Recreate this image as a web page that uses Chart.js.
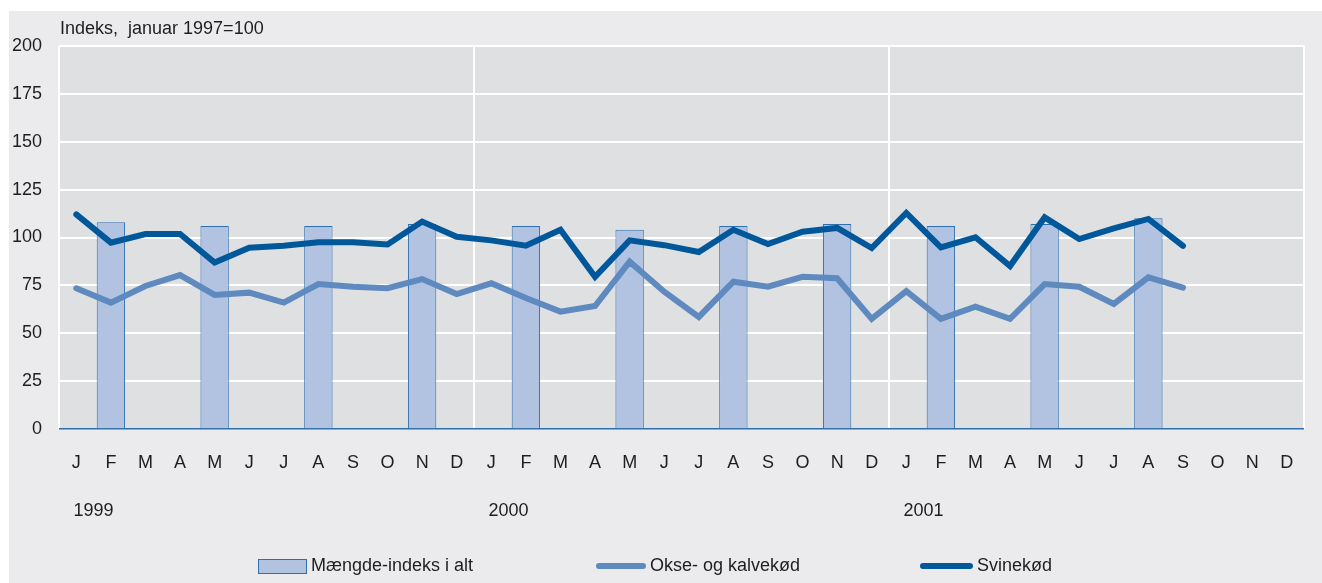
<!DOCTYPE html>
<html>
<head>
<meta charset="utf-8">
<script src="https://cdn.jsdelivr.net/npm/chart.js@4.4.1/dist/chart.umd.min.js"></script>
<style>
  html, body { margin: 0; padding: 0; background: #ffffff; }
  canvas { display: block; }
</style>
</head>
<body>
<canvas id="c" width="1322" height="583"></canvas>
<script>
// ---- Data ----
const monthLabels = ['J','F','M','A','M','J','J','A','S','O','N','D',
                     'J','F','M','A','M','J','J','A','S','O','N','D',
                     'J','F','M','A','M','J','J','A','S','O','N','D'];
const yearLabels = ['1999', '2000', '2001'];
const yTicks = [0, 25, 50, 75, 100, 125, 150, 175, 200];
const unitLabel = 'Indeks,  januar 1997=100';

const seriesNames = ['Mængde-indeks i alt', 'Okse- og kalvekød', 'Svinekød'];

const maengdeIndeks = [null,108,null,null,106,null,null,106,null,null,107,null,
                       null,106,null,null,104,null,null,106,null,null,107,null,
                       null,106,null,null,107,null,null,110,null,null,null,null];

const okseKalv = [73.5,66,74.7,80.4,70,71.2,66,75.7,74.3,73.5,78.3,70.5,
                  76.1,68.4,61.3,64.2,87.4,71.7,58.5,76.9,74.3,79.5,78.7,57.5,
                  72,57.5,63.9,57.5,75.7,74.3,65.3,79.2,73.8,null,null,null];

const svinekod = [112.1,97.3,101.8,101.8,86.9,94.7,95.7,97.5,97.5,96.4,108.3,100.4,
                  98.5,95.7,104,79.5,98.5,96,92.4,104,96.6,103,105,94.5,
                  112.8,94.9,100.1,85.1,110.5,99.2,104.8,109.7,95.6,null,null,null];

// ---- Styles ----
const FONT = '"Liberation Sans", Arial, sans-serif';
const TEXT = '#1e1e1e';
const BAR_FILL = '#b1c3e1';
const BAR_BORDER = '#2f6fae';
const OKSE_COLOR = '#5e8abf';
const SVINE_COLOR = '#00589b';

const bgPlugin = {
  id: 'bg',
  beforeDraw(chart) {
    const ctx = chart.ctx;
    const a = chart.chartArea;
    ctx.save();
    ctx.fillStyle = '#ffffff';
    ctx.fillRect(0, 0, chart.width, chart.height);
    ctx.fillStyle = '#ebebed';
    ctx.fillRect(9, 11, chart.width - 9, chart.height - 11);
    ctx.fillStyle = '#dfe0e2';
    ctx.fillRect(a.left, a.top, a.right - a.left, a.bottom - a.top);
    ctx.restore();
  },
  afterDraw(chart) {
    const ctx = chart.ctx;
    const x = chart.scales.x;
    ctx.save();
    ctx.fillStyle = TEXT;
    ctx.font = '18px ' + FONT;
    ctx.textBaseline = 'middle';
    // unit label
    ctx.textAlign = 'left';
    ctx.fillText(unitLabel, 60, 29);
    // year labels
    ctx.textAlign = 'center';
    yearLabels.forEach((y, i) => {
      const cx = (x.getPixelForValue(i * 12) + x.getPixelForValue(i * 12 + 1)) / 2;
      ctx.fillText(y, cx, 511);
    });
    // legend
    const ly = 566;
    ctx.textAlign = 'left';
    // bar item
    ctx.fillStyle = BAR_FILL;
    ctx.fillRect(258, ly - 7, 48, 14);
    ctx.strokeStyle = BAR_BORDER;
    ctx.lineWidth = 1;
    ctx.strokeRect(258.5, ly - 6.5, 48, 14);
    ctx.fillStyle = TEXT;
    ctx.fillText(seriesNames[0], 311, ly);
    // okse item
    ctx.lineCap = 'round';
    ctx.lineWidth = 6;
    ctx.strokeStyle = OKSE_COLOR;
    ctx.beginPath(); ctx.moveTo(599, ly); ctx.lineTo(643, ly); ctx.stroke();
    ctx.fillText(seriesNames[1], 650, ly);
    // svine item
    ctx.strokeStyle = SVINE_COLOR;
    ctx.beginPath(); ctx.moveTo(923, ly); ctx.lineTo(970, ly); ctx.stroke();
    ctx.fillText(seriesNames[2], 977, ly);
    ctx.restore();
  }
};

new Chart(document.getElementById('c'), {
  type: 'bar',
  data: {
    labels: monthLabels,
    datasets: [
      {
        type: 'line', label: seriesNames[2], data: svinekod,
        borderColor: SVINE_COLOR, borderWidth: 6, pointRadius: 0,
        borderCapStyle: 'round', borderJoinStyle: 'miter', tension: 0, order: 0
      },
      {
        type: 'line', label: seriesNames[1], data: okseKalv,
        borderColor: OKSE_COLOR, borderWidth: 6, pointRadius: 0,
        borderCapStyle: 'round', borderJoinStyle: 'miter', tension: 0, order: 1
      },
      {
        type: 'bar', label: seriesNames[0], data: maengdeIndeks,
        backgroundColor: BAR_FILL, borderColor: BAR_BORDER, borderWidth: 1,
        barPercentage: 0.82, categoryPercentage: 1.0, order: 2
      }
    ]
  },
  options: {
    responsive: false,
    animation: false,
    devicePixelRatio: 1,
    layout: { padding: { top: 46, right: 18, left: 0, bottom: 0 } },
    plugins: { legend: { display: false }, tooltip: { enabled: false }, title: { display: false } },
    scales: {
      x: {
        offset: true,
        grid: {
          offset: true,
          drawTicks: false,
          lineWidth: 2,
          color: (c) => (c.index === undefined || c.index % 12 === 0) ? '#ffffff' : 'rgba(0,0,0,0)'
        },
        border: { display: false },
        ticks: {
          color: TEXT, font: { family: FONT, size: 18 }, padding: 23,
          maxRotation: 0, autoSkip: false
        },
        afterFit: (s) => { s.height = 154; }
      },
      y: {
        min: 0, max: 200,
        afterBuildTicks: (s) => { s.ticks = yTicks.map(v => ({ value: v })); },
        grid: {
          drawTicks: false,
          lineWidth: (c) => (c.tick && c.tick.value === 0) ? 1.5 : 2,
          color: (c) => (c.tick && c.tick.value === 0) ? BAR_BORDER : '#ffffff'
        },
        border: { display: false },
        ticks: { color: TEXT, font: { family: FONT, size: 18 }, padding: 17 },
        afterFit: (s) => { s.width = 59; }
      }
    }
  },
  plugins: [bgPlugin]
});
</script>
</body>
</html>
